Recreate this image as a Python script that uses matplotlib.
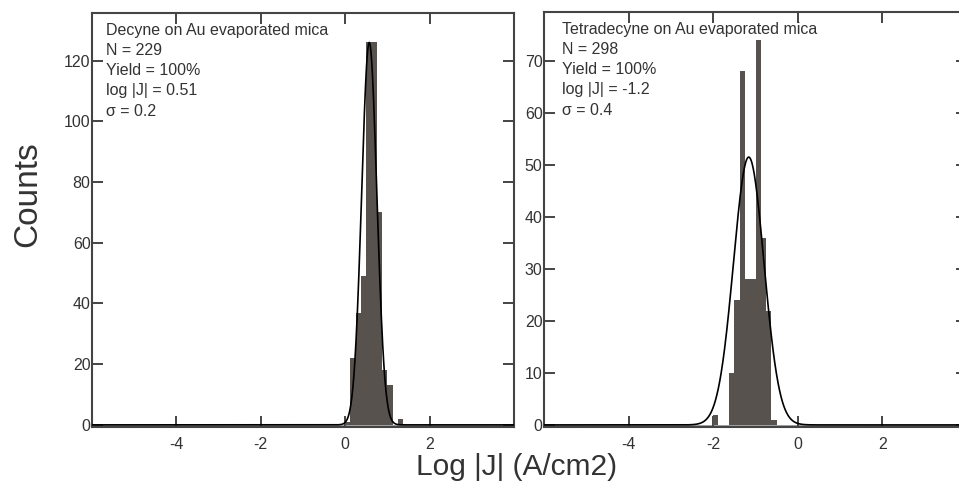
import numpy as np
import matplotlib
matplotlib.use("Agg")
import matplotlib.pyplot as plt

plt.rcParams["font.family"] = ["Liberation Sans", "DejaVu Sans"]
plt.rcParams["axes.unicode_minus"] = False

# histogram data (bin width 0.125)
bin_w = 0.125
decyne_left = [0.0, 0.125, 0.25, 0.375, 0.5, 0.625, 0.75, 0.875, 1.0, 1.125, 1.25]
decyne_counts = [1, 22, 37, 49, 126, 126, 70, 18, 13, 0, 2]
decyne_fit = (126, 0.57, 0.18)   # amplitude, mean, sigma
decyne_text = ["Decyne on Au evaporated mica", "N = 229", "Yield = 100%",
               "log |J| = 0.51", "σ = 0.2"]

tetra_left = [-2.0, -1.875, -1.75, -1.625, -1.5, -1.375, -1.25, -1.125,
              -1.0, -0.875, -0.75, -0.625]
tetra_counts = [2, 0, 0, 10, 24, 68, 28, 28, 74, 36, 22, 1]
tetra_fit = (51.5, -1.16, 0.36)
tetra_text = ["Tetradecyne on Au evaporated mica", "N = 298", "Yield = 100%",
              "log |J| = -1.2", "σ = 0.4"]

xticks = [-4, -2, 0, 2]
bar_col = "#58524e"
txt_col = "#333333"

fig = plt.figure(figsize=(9.59, 4.86), dpi=100)
ax1 = fig.add_axes([92/959, 59/486, 422/959, 414/486])
ax2 = fig.add_axes([544/959, 59/486, 423/959, 415/486])


def panel(ax, lefts, counts, fit, lines, ylim, yticks, tx):
    ax.bar(lefts, counts, width=bin_w, align="edge", color=bar_col, lw=0, zorder=2)
    ax.axhspan(ylim[0], 0, color="#a3a3a3", lw=0, zorder=1)
    xs = np.linspace(-6, 4, 1200)
    a, m, s = fit
    ax.plot(xs, a*np.exp(-0.5*((xs-m)/s)**2), color="black", lw=1.2, zorder=3)
    ax.set_xlim(-6, 4)
    ax.set_ylim(*ylim)
    ax.set_xticks(xticks)
    ax.set_yticks(yticks)
    ax.tick_params(axis="x", direction="in", top=True, length=8, width=1.4,
                   color="#444444", labelsize=11.5, labelcolor=txt_col, pad=7)
    ax.tick_params(axis="y", direction="in", right=True, length=8,
                   width=1.4, color="#444444", labelsize=11.5, labelcolor=txt_col)
    # left ticks cross the spine
    for t in ax.yaxis.get_major_ticks():
        t.tick1line.set_marker(matplotlib.lines.TICKLEFT)
        t.tick1line.set_markersize(6)
    ax.tick_params(axis="y", pad=1)
    for sp in ax.spines.values():
        sp.set_color("#444444")
        sp.set_linewidth(1.5)
    ax.text(tx, 0.975, "\n".join(lines), transform=ax.transAxes, ha="left", va="top",
            fontsize=11.5, color=txt_col, linespacing=1.42)


panel(ax1, decyne_left, decyne_counts, decyne_fit, decyne_text,
      (-0.7, 135.7), range(0, 121, 20), 0.034)
panel(ax2, tetra_left, tetra_counts, tetra_fit, tetra_text,
      (-0.4, 79.4), range(0, 71, 10), 0.043)

fig.text(0.029, 0.60, "Counts", rotation=90, ha="center", va="center",
         fontsize=24, color=txt_col)
fig.text(517/959, 1 - 467/486, "Log |J| (A/cm2)", ha="center", va="center",
         fontsize=21.5, color=txt_col)

fig.savefig("out.png", dpi=100, facecolor="white")
